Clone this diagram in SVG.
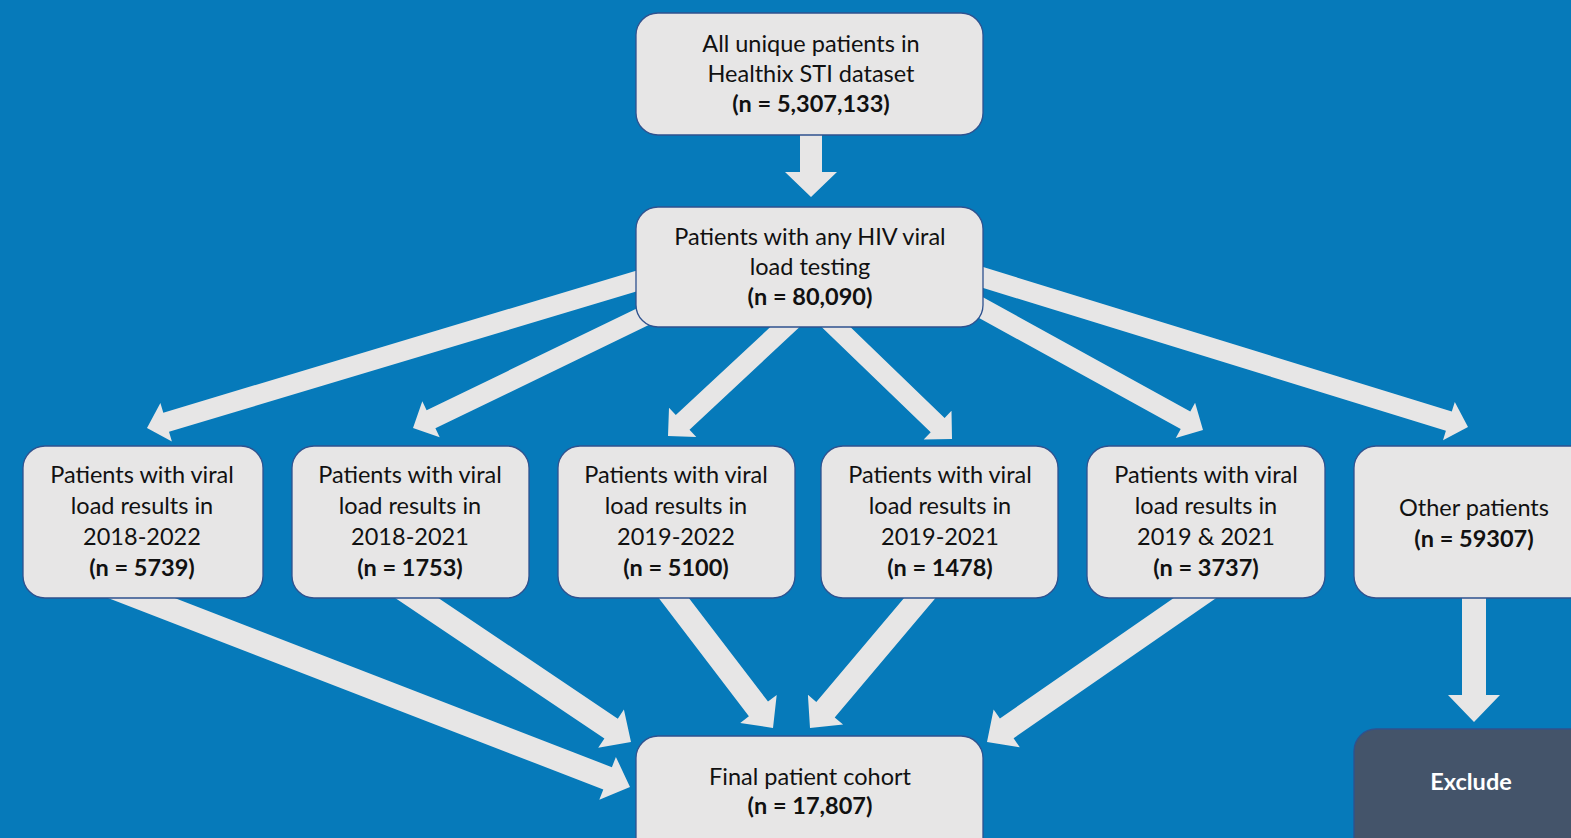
<svg xmlns="http://www.w3.org/2000/svg" width="1571" height="838" viewBox="0 0 1571 838">
  <style>
    .bg { fill: #067aba; }
    .box { fill: #e7e6e6; stroke: #2f528f; stroke-width: 1.3; }
    .dark { fill: #44546a; stroke: #2f528f; stroke-width: 1.3; }
    .arr { fill: #e7e6e6; }
    text { font-family: Lato, "Liberation Sans", sans-serif; font-size: 23.5px; fill: #111111; text-anchor: middle; }
    .b { font-weight: bold; }
    .w { fill: #ffffff; font-weight: bold; }
  </style>
  <rect class="bg" x="0" y="0" width="1571" height="838"/>

  <g id="connectors">
    <polygon class="arr" points="800,130 800,172 785,172 811,197 837,172 822,172 822,130"/>
    <polygon class="arr" points="697.1,252.4 163.3,412.7 160.4,403.1 147,428 171.9,441.4 169.0,431.8 702.9,271.6"/>
    <polygon class="arr" points="695.6,280.0 426.6,410.3 422.3,401.3 413,428 439.7,437.3 435.4,428.3 704.4,298.0"/>
    <polygon class="arr" points="807.2,292.7 675.8,415.1 669.0,407.7 668,436 696.3,437.0 689.5,429.7 820.8,307.3"/>
    <polygon class="arr" points="801.1,307.2 930.7,432.3 923.7,439.5 952,439 951.5,410.7 944.6,417.9 814.9,292.8"/>
    <polygon class="arr" points="915.2,282.8 1180.7,429.1 1175.8,437.9 1203,430 1195.1,402.8 1190.3,411.6 924.8,265.2"/>
    <polygon class="arr" points="917.1,267.6 1445.9,430.7 1443.0,440.2 1468,427 1454.8,402.0 1451.8,411.6 922.9,248.4"/>
    <polygon class="arr" points="95.7,593.2 603.3,789.5 599.3,799.8 630,787 615.9,756.9 611.9,767.2 104.3,570.8"/>
    <polygon class="arr" points="383.3,590.0 604.4,738.6 598.2,747.7 631,742 623.9,709.5 617.8,718.7 396.7,570.0"/>
    <polygon class="arr" points="650.5,587.3 748.9,716.2 740.2,722.9 773,728 776.7,695.0 768.0,701.6 669.5,572.7"/>
    <polygon class="arr" points="925.8,572.3 816.3,701.9 807.9,694.8 810,728 843.1,724.5 834.7,717.4 944.2,587.7"/>
    <polygon class="arr" points="1214.2,570.1 999.9,718.5 993.6,709.4 987,742 1019.8,747.3 1013.6,738.2 1227.8,589.9"/>
    <polygon class="arr" points="1462,590 1462,695 1448,695 1474,722 1500,695 1486,695 1486,590"/>
  </g>

  <g id="all-patients">
    <rect class="box" x="636" y="13" width="347" height="122" rx="22"/>
    <text x="811" y="52">All unique patients in</text>
    <text x="811" y="82">Healthix STI dataset</text>
    <text class="b" x="811" y="112">(n = 5,307,133)</text>
  </g>

  <g id="hiv-viral-load">
    <rect class="box" x="636" y="207" width="347" height="120" rx="22"/>
    <text x="810" y="245">Patients with any HIV viral</text>
    <text x="810" y="275">load testing</text>
    <text class="b" x="810" y="305">(n = 80,090)</text>
  </g>

  <g id="vl-2018-2022">
    <rect class="box" x="23" y="446" width="240" height="152" rx="22"/>
    <text x="142" y="483">Patients with viral</text>
    <text x="142" y="514">load results in</text>
    <text x="142" y="545">2018-2022</text>
    <text class="b" x="142" y="576">(n = 5739)</text>
  </g>

  <g id="vl-2018-2021">
    <rect class="box" x="292" y="446" width="237" height="152" rx="22"/>
    <text x="410" y="483">Patients with viral</text>
    <text x="410" y="514">load results in</text>
    <text x="410" y="545">2018-2021</text>
    <text class="b" x="410" y="576">(n = 1753)</text>
  </g>

  <g id="vl-2019-2022">
    <rect class="box" x="558" y="446" width="237" height="152" rx="22"/>
    <text x="676" y="483">Patients with viral</text>
    <text x="676" y="514">load results in</text>
    <text x="676" y="545">2019-2022</text>
    <text class="b" x="676" y="576">(n = 5100)</text>
  </g>

  <g id="vl-2019-2021">
    <rect class="box" x="821" y="446" width="237" height="152" rx="22"/>
    <text x="940" y="483">Patients with viral</text>
    <text x="940" y="514">load results in</text>
    <text x="940" y="545">2019-2021</text>
    <text class="b" x="940" y="576">(n = 1478)</text>
  </g>

  <g id="vl-2019-and-2021">
    <rect class="box" x="1087" y="446" width="238" height="152" rx="22"/>
    <text x="1206" y="483">Patients with viral</text>
    <text x="1206" y="514">load results in</text>
    <text x="1206" y="545">2019 &amp; 2021</text>
    <text class="b" x="1206" y="576">(n = 3737)</text>
  </g>

  <g id="other-patients">
    <rect class="box" x="1354" y="446" width="250" height="152" rx="22"/>
    <text x="1474" y="516">Other patients</text>
    <text class="b" x="1474" y="547">(n = 59307)</text>
  </g>

  <g id="final-cohort">
    <rect class="box" x="636" y="736" width="347" height="130" rx="22"/>
    <text x="810" y="785">Final patient cohort</text>
    <text class="b" x="810" y="814">(n = 17,807)</text>
  </g>

  <g id="exclude">
    <rect class="dark" x="1354" y="729" width="250" height="140" rx="22"/>
    <text class="w" x="1471" y="790">Exclude</text>
  </g>
</svg>
